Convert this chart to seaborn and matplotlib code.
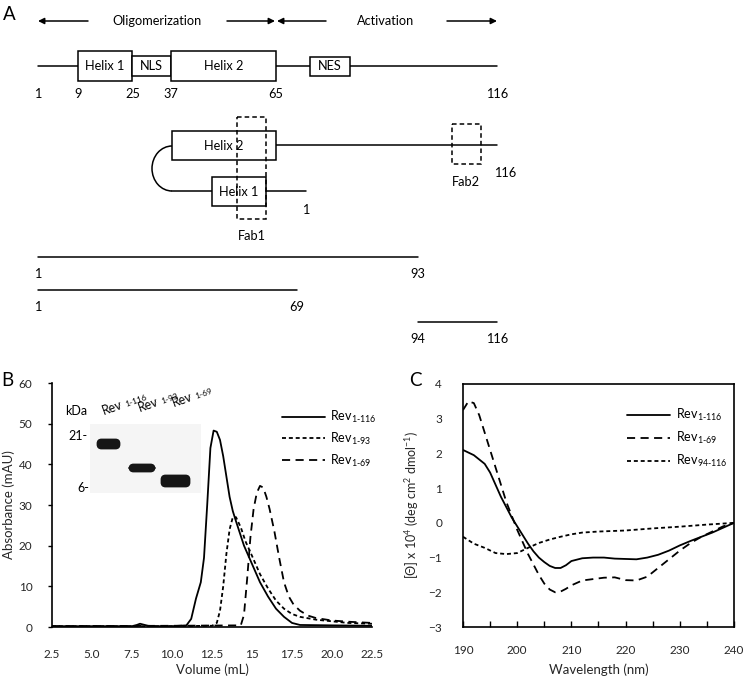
import numpy as np
import seaborn as sns
import matplotlib.pyplot as plt
from matplotlib.patches import Rectangle, FancyBboxPatch, Arc

# Panel B: size exclusion traces (volume in mL, absorbance in mAU)
vol_116 = [2.5, 5.0, 7.5, 7.8, 8.0, 8.2, 8.5, 9.0, 10.0, 10.9, 11.2, 11.5, 11.8, 12.0, 12.2, 12.4,
           12.6, 12.8, 13.0, 13.2, 13.4, 13.6, 13.8, 14.0, 14.5, 15.0, 15.5, 16.0, 16.5, 17.0,
           17.5, 18.0, 20.0, 22.5]
abs_116 = [0.2, 0.2, 0.2, 0.5, 0.8, 0.6, 0.3, 0.2, 0.2, 0.4, 2.0, 7.0, 11.0, 17.0, 30.0, 44.0,
           48.3, 48.0, 46.0, 42.0, 37.0, 32.0, 28.5, 26.0, 20.0, 15.5, 11.0, 7.5, 4.5, 2.5,
           1.0, 0.5, 0.4, 0.3]

vol_93 = [2.5, 10.0, 12.5, 12.8, 13.0, 13.2, 13.4, 13.6, 13.8, 14.0, 14.3, 14.6, 15.0, 15.5,
          16.0, 16.5, 17.0, 17.5, 18.0, 19.0, 20.0, 21.0, 22.5]
abs_93 = [0.2, 0.2, 0.3, 1.0, 4.0, 10.0, 18.0, 24.0, 27.0, 27.0, 24.5, 21.0, 17.5, 13.0,
          9.5, 6.5, 4.5, 3.2, 2.5, 1.8, 1.4, 1.0, 0.8]

vol_69 = [2.5, 10.0, 14.3, 14.5, 14.7, 14.9, 15.1, 15.3, 15.5, 15.7, 15.9, 16.1, 16.4, 16.7,
          17.0, 17.3, 17.6, 18.0, 18.5, 19.0, 20.0, 21.0, 22.5]
abs_69 = [0.2, 0.3, 0.4, 3.0, 12.0, 22.0, 29.0, 33.0, 34.7, 34.3, 32.0, 29.0, 23.5, 17.0,
          11.0, 7.5, 5.5, 4.0, 2.8, 2.2, 1.6, 1.3, 1.0]

b_labels = ["Rev$_{1\\text{-}116}$", "Rev$_{1\\text{-}93}$", "Rev$_{1\\text{-}69}$"]
b_ticks = [2.5, 5.0, 7.5, 10.0, 12.5, 15.0, 17.5, 20.0, 22.5]
b_ticklabels = ["2.5", "5.0", "7.5", "10.0", "12.5", "15", "17.5", "20.0", "22.5"]

# Panel C: CD spectra (wavelength in nm, [theta] x 10^4)
wl_116 = [190, 192, 194, 195, 196, 197, 198, 199, 200, 201, 202, 203, 204, 205, 206, 207, 208,
          209, 210, 212, 214, 216, 218, 220, 222, 224, 226, 228, 230, 232, 234, 236, 238, 240]
cd_116 = [2.1, 1.95, 1.7, 1.45, 1.1, 0.75, 0.45, 0.15, -0.1, -0.35, -0.6, -0.82, -1.0, -1.13,
          -1.24, -1.3, -1.3, -1.22, -1.1, -1.02, -1.0, -1.0, -1.03, -1.04, -1.05, -1.0, -0.92,
          -0.8, -0.65, -0.52, -0.4, -0.28, -0.14, 0.0]

wl_69 = [190, 191, 192, 193, 194, 195, 196, 197, 198, 199, 200, 201, 202, 203, 204, 205, 206,
         207, 208, 209, 210, 212, 214, 216, 218, 220, 222, 224, 226, 228, 230, 232, 234, 236,
         238, 240]
cd_69 = [3.25, 3.5, 3.45, 3.1, 2.6, 2.1, 1.6, 1.1, 0.6, 0.2, -0.2, -0.55, -0.9, -1.2, -1.5,
         -1.75, -1.92, -2.0, -1.98, -1.9, -1.8, -1.66, -1.62, -1.58, -1.57, -1.65, -1.66, -1.55,
         -1.3, -1.05, -0.8, -0.58, -0.4, -0.25, -0.1, 0.0]

wl_94 = [190, 192, 194, 196, 198, 200, 202, 204, 206, 208, 210, 212, 215, 220, 225, 230, 235, 240]
cd_94 = [-0.4, -0.6, -0.72, -0.87, -0.9, -0.87, -0.72, -0.58, -0.48, -0.4, -0.33, -0.28, -0.25,
         -0.22, -0.16, -0.11, -0.05, 0.0]

c_labels = ["Rev$_{1\\text{-}116}$", "Rev$_{1\\text{-}69}$", "Rev$_{94\\text{-}116}$"]

# Panel A schematic labels
domain_names = ["Helix 1", "NLS", "Helix 2", "NES"]
residue_marks = ["1", "9", "25", "37", "65", "116"]
region_names = ["Oligomerization", "Activation"]
construct_ends = [("1", "93"), ("1", "69"), ("94", "116")]
gel_lanes = ["1-116", "1-93", "1-69"]
gel_markers = ["21-", "6-"]

sns.set_theme(style="white")
plt.rcParams["font.family"] = ["Lato", "DejaVu Sans"]
plt.rcParams["mathtext.fontset"] = "custom"
plt.rcParams["mathtext.rm"] = "Lato"
plt.rcParams["mathtext.it"] = "Lato:italic"
plt.rcParams["mathtext.bf"] = "Lato:bold"
plt.rcParams["text.color"] = "black"

W, H = 745, 678
fig = plt.figure(figsize=(W / 100, H / 100), dpi=100)


def frac(x0, y0, x1, y1):
    # pixel box -> figure fraction rect
    return [x0 / W, 1 - y1 / H, (x1 - x0) / W, (y1 - y0) / H]


fs = 9
tk = 8.5
solid = "-"
short = (0, (2.2, 1.6))
long_ = (0, (4.5, 3.0))

# ---------------- Panel B
ax_b = fig.add_axes(frac(52, 383, 372, 627))
sns.lineplot(x=vol_116, y=abs_116, ax=ax_b, color="black", lw=1.3, linestyle=solid, label=b_labels[0])
sns.lineplot(x=vol_93, y=abs_93, ax=ax_b, color="black", lw=1.3, linestyle=short, label=b_labels[1])
sns.lineplot(x=vol_69, y=abs_69, ax=ax_b, color="black", lw=1.3, linestyle=long_, label=b_labels[2])
ax_b.set_xlim(2.5, 22.5)
ax_b.set_ylim(0, 60)
ax_b.set_xticks(b_ticks)
ax_b.set_xticklabels(b_ticklabels)
ax_b.set_yticks(np.arange(0, 61, 10))
sns.despine(ax=ax_b)
for s in ["left", "bottom"]:
    ax_b.spines[s].set_color("black")
    ax_b.spines[s].set_linewidth(1.2)
ax_b.tick_params(axis="y", left=True, length=3, width=1, color="black", pad=11, labelsize=tk)
ax_b.tick_params(axis="x", bottom=False, pad=10, labelsize=tk)
ax_b.set_xlabel("Volume (mL)", fontsize=fs + 0.5, labelpad=2)
ax_b.set_ylabel("Absorbance (mAU)", fontsize=fs + 0.5)
ax_b.yaxis.set_label_coords(-0.115, 0.5)
ax_b.legend(loc="upper left", bbox_to_anchor=(282 / W, 1 - 409 / H), bbox_transform=fig.transFigure,
            frameon=False, fontsize=fs, handlelength=3.4, handletextpad=0.45, labelspacing=0.45,
            borderpad=0, borderaxespad=0)

# ---------------- Panel C
ax_c = fig.add_axes(frac(463, 384, 734, 627))
sns.lineplot(x=wl_116, y=cd_116, ax=ax_c, color="black", lw=1.3, linestyle=solid, label=c_labels[0])
sns.lineplot(x=wl_69, y=cd_69, ax=ax_c, color="black", lw=1.3, linestyle=long_, label=c_labels[1])
sns.lineplot(x=wl_94, y=cd_94, ax=ax_c, color="black", lw=1.3, linestyle=short, label=c_labels[2])
ax_c.set_xlim(190, 240)
ax_c.set_ylim(-3, 4)
ax_c.set_xticks(np.arange(190, 241, 10))
ax_c.set_xticks(np.arange(195, 240, 10), minor=True)
ax_c.set_yticks(np.arange(-3, 5, 1))
for s in ax_c.spines.values():
    s.set_color("black")
    s.set_linewidth(1.2)
ax_c.tick_params(axis="x", which="both", bottom=True, direction="in", length=4, width=1,
                 color="black", pad=13, labelsize=tk)
ax_c.tick_params(axis="y", left=False, pad=9, labelsize=tk)
ax_c.set_xlabel("Wavelength (nm)", fontsize=fs + 0.5, labelpad=5)
ax_c.set_ylabel("[\u0398] x 10$^{4}$ (deg cm$^{2}$ dmol$^{-1}$)", fontsize=fs, labelpad=5)
ax_c.legend(loc="upper left", bbox_to_anchor=(627 / W, 1 - 407 / H), bbox_transform=fig.transFigure,
            frameon=False, fontsize=fs, handlelength=3.4, handletextpad=0.5, labelspacing=0.55,
            borderpad=0, borderaxespad=0)

# ---------------- Overlay in pixel coordinates (schematic A, gel inset, panel letters)
ov = fig.add_axes([0, 0, 1, 1], facecolor="none")
ov.set_xlim(0, W)
ov.set_ylim(H, 0)
ov.axis("off")
lw = 1.1
tf = 9.2


def box(x0, x1, y0, y1, text=None, ls="-", fill=True):
    ov.add_patch(Rectangle((x0, y0), x1 - x0, y1 - y0, fill=fill, fc="white", ec="black",
                           lw=lw, ls=ls, zorder=3 if fill else 5))
    if text:
        ov.text((x0 + x1) / 2, (y0 + y1) / 2, text, ha="center", va="center", fontsize=tf, zorder=4)


def hline(x0, x1, y):
    ov.plot([x0, x1], [y, y], color="black", lw=lw, zorder=2)


def arrow(x_from, x_to, y):
    ov.annotate("", xy=(x_to, y), xytext=(x_from, y),
                arrowprops=dict(arrowstyle="-|>", color="black", lw=lw, mutation_scale=9,
                                shrinkA=0, shrinkB=0))


# panel letters
ov.text(3, 15, "A", fontsize=13.5, va="center", ha="left")
ov.text(1, 380, "B", fontsize=13.5, va="center", ha="left")
ov.text(409, 380, "C", fontsize=13.5, va="center", ha="left")

# region arrows
arrow(88, 38, 21)
ov.text(157, 21, region_names[0], ha="center", va="center", fontsize=tf)
arrow(227, 275, 21)
arrow(326, 277, 21)
ov.text(386, 21, region_names[1], ha="center", va="center", fontsize=tf)
arrow(447, 497, 21)

# domain map
hline(38, 497, 66)
box(78, 132, 51, 81, domain_names[0])
box(132, 171, 56, 76, domain_names[1])
box(171, 276, 51, 81, domain_names[2])
box(310, 350, 57, 76, domain_names[3])
for lab, x in zip(residue_marks, [38, 78, 133, 171, 276, 497]):
    ov.text(x, 94, lab, ha="center", va="center", fontsize=tf)

# folded hairpin
hline(276, 497, 145)
box(172, 276, 131, 160, "Helix 2")
ov.add_patch(Arc((172, 168.5), 40, 45, theta1=90, theta2=270, color="black", lw=lw))
hline(172, 212, 191)
box(212, 266, 177, 206, "Helix 1")
hline(266, 306, 191)
ov.text(306, 210, "1", ha="center", va="center", fontsize=tf)
box(237, 266, 117, 219, ls=(0, (3, 2)), fill=False)
ov.text(252, 236, "Fab1", ha="center", va="center", fontsize=tf)
box(452, 481, 124, 164, ls=(0, (3, 2)), fill=False)
ov.text(466, 182, "Fab2", ha="center", va="center", fontsize=tf)
ov.text(505, 173, "116", ha="center", va="center", fontsize=tf)

# constructs
for (a, b), (x0, x1, y) in zip(construct_ends, [(38, 418, 257), (38, 297, 290), (418, 497, 322)]):
    hline(x0, x1, y)
    ov.text(x0, y + 17, a, ha="center", va="center", fontsize=tf)
    ov.text(x1, y + 17, b, ha="center", va="center", fontsize=tf)

# gel inset
ov.add_patch(Rectangle((90, 424), 111, 69, fc="#f5f5f5", ec="none", zorder=1))
for x0, x1, yc, h in [(95, 122, 444, 8), (127, 157, 468, 6), (159, 192, 481, 10)]:
    ov.add_patch(FancyBboxPatch((x0 + 3, yc - h / 2), x1 - x0 - 6, h,
                                boxstyle="round,pad=0,rounding_size=3.5", fc="#161616", ec="#161616",
                                lw=2, zorder=2))
ov.text(65, 411, "kDa", ha="left", va="center", fontsize=fs)
ov.text(88, 436, gel_markers[0], ha="right", va="center", fontsize=fs)
ov.text(89, 488, gel_markers[1], ha="right", va="center", fontsize=fs)
for lab, x, y in zip(gel_lanes, [104, 140, 174], [415, 412, 407]):
    ov.text(x, y, "Rev", ha="left", va="baseline", rotation=20, rotation_mode="anchor", fontsize=fs)
    ov.text(x + 22, y - 8, lab, ha="left", va="baseline", rotation=20, rotation_mode="anchor",
            fontsize=6)

fig.savefig("out.png", dpi=100)
